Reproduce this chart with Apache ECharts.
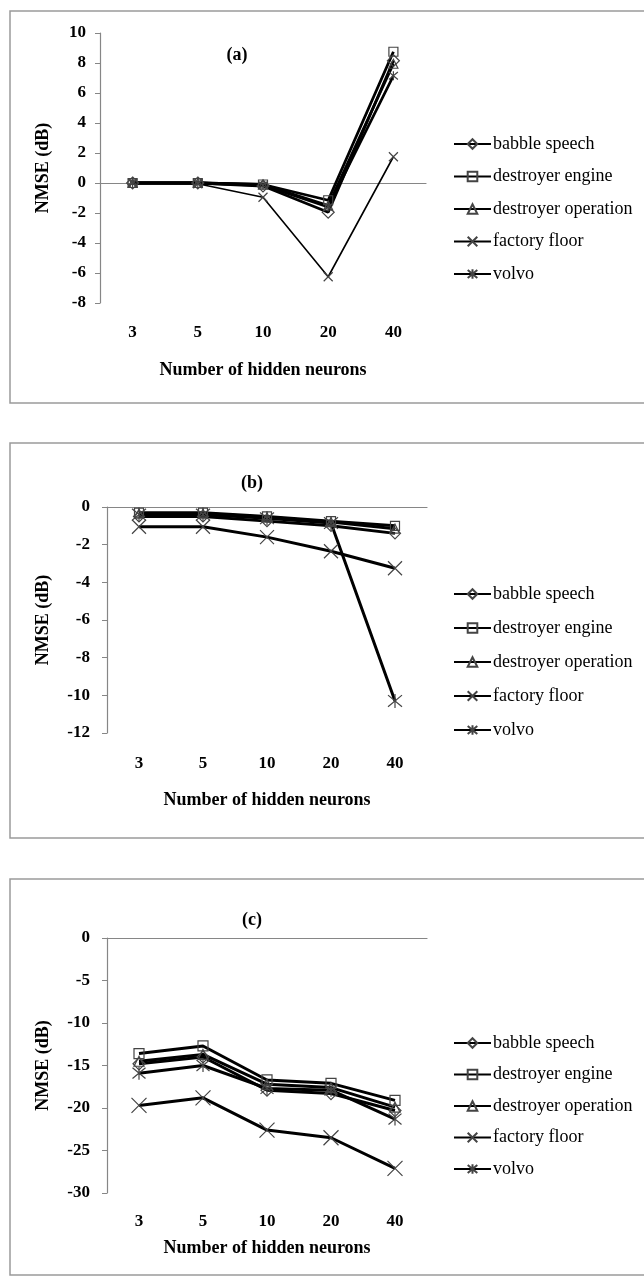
<!DOCTYPE html>
<html>
<head>
<meta charset="utf-8">
<script src="https://cdn.jsdelivr.net/npm/echarts@6/dist/echarts.min.js"></script>
<style>
html,body{margin:0;padding:0;background:#fff;}
#chart{width:644px;height:1281px;}
</style>
</head>
<body>
<div id="chart"></div>
<script>
// ---- data ----
const categories = ['3', '5', '10', '20', '40'];
const seriesNames = ['babble speech', 'destroyer engine', 'destroyer operation', 'factory floor', 'volvo'];

// Panel (a)
const aBabble      = [0, 0, -0.2, -1.95, 8.15];
const aDestEngine  = [0, 0, -0.1, -1.15, 8.75];
const aDestOper    = [0, 0, -0.1, -1.5, 7.95];
const aFactory     = [0, -0.05, -0.95, -6.25, 1.75];
const aVolvo       = [0, 0, -0.15, -1.6, 7.15];

// Panel (b)
const bBabble      = [-0.5, -0.5, -0.75, -1.0, -1.4];
const bDestEngine  = [-0.3, -0.3, -0.5, -0.75, -1.0];
const bDestOper    = [-0.35, -0.35, -0.55, -0.8, -1.15];
const bFactory     = [-1.05, -1.05, -1.6, -2.35, -3.25];
const bVolvo       = [-0.4, -0.4, -0.6, -0.85, -10.3];

// Panel (c)
const cBabble      = [-14.8, -14.0, -17.9, -18.3, -20.3];
const cDestEngine  = [-13.6, -12.7, -16.7, -17.1, -19.1];
const cDestOper    = [-14.5, -13.7, -17.2, -17.6, -19.9];
const cFactory     = [-19.7, -18.8, -22.6, -23.5, -27.1];
const cVolvo       = [-15.9, -15.0, -17.7, -17.9, -21.3];

const panelTitles = ['(a)', '(b)', '(c)'];
const xTitle = 'Number of hidden neurons';
const yTitle = 'NMSE (dB)';

// ---- styling ----
const FONT = '"Liberation Serif", "Times New Roman", serif';
const AXIS_GRAY = '#868686';
const symX = 'path://M0,0L10,10M10,0L0,10';
const symStar = 'path://M0,0L10,10M10,0L0,10M5,-1L5,11';
const symbols = ['diamond', 'rect', 'triangle', symX, symStar];

const panels = [
  { data: [aBabble, aDestEngine, aDestOper, aFactory, aVolvo], min: -8, max: 10, interval: 2,
    grid: { left: 100, top: 33, width: 326, height: 270 }, lw: [2.8, 2.8, 2.8, 1.6, 2.8],
    sizes: [12, 9, 9, 9, 9], labelMargin: 21, nameGap: 58, yNameGap: 48, yLabelMargin: 14,
    title: [237, 55], legendTop: 135, legendGap: 14.5 },
  { data: [bBabble, bDestEngine, bDestOper, bFactory, bVolvo], min: -12, max: 0, interval: 2,
    grid: { left: 107, top: 507, width: 320, height: 226 }, lw: [3, 3, 3, 3, 3],
    sizes: [11, 9, 9, 14, 14], labelMargin: 22, nameGap: 58, yNameGap: 55, yLabelMargin: 17,
    title: [252, 483], legendTop: 585, legendGap: 16 },
  { data: [cBabble, cDestEngine, cDestOper, cFactory, cVolvo], min: -30, max: 0, interval: 5,
    grid: { left: 107, top: 938, width: 320, height: 255 }, lw: [3, 3, 3, 3, 3],
    sizes: [12, 10, 10, 15, 13], labelMargin: 20, nameGap: 46, yNameGap: 55, yLabelMargin: 17,
    title: [252, 920], legendTop: 1034, legendGap: 13.5 }
];

const grids = [], xAxes = [], yAxes = [], series = [], legends = [], graphics = [];
const boxes = [[10, 11, 392], [10, 443, 395], [10, 879, 396]];
boxes.forEach(b => {
  graphics.push({ type: 'rect', z: -10, shape: { x: b[0], y: b[1], width: 660, height: b[2] },
    style: { fill: 'none', stroke: '#9a9a9a', lineWidth: 1.5 } });
});

panels.forEach((p, i) => {
  grids.push(p.grid);
  // label axis at bottom
  xAxes.push({ gridIndex: i, type: 'category', data: categories, position: 'bottom',
    axisLine: { show: false, onZero: false }, axisTick: { show: false },
    axisLabel: { fontFamily: FONT, fontWeight: 'bold', fontSize: 17, color: '#000', margin: p.labelMargin },
    name: xTitle, nameLocation: 'middle', nameGap: p.nameGap,
    nameTextStyle: { fontFamily: FONT, fontWeight: 'bold', fontSize: 18, color: '#000' } });
  // zero line axis
  xAxes.push({ gridIndex: i, type: 'category', data: categories,
    axisLine: { show: true, onZero: true, lineStyle: { color: AXIS_GRAY, width: 1.2 } },
    axisTick: { show: false }, axisLabel: { show: false } });
  yAxes.push({ gridIndex: i, type: 'value', min: p.min, max: p.max, interval: p.interval,
    axisLine: { show: true, lineStyle: { color: AXIS_GRAY, width: 1.2 } },
    axisTick: { show: true, inside: false, length: 5, lineStyle: { color: AXIS_GRAY } },
    splitLine: { show: false },
    axisLabel: { fontFamily: FONT, fontWeight: 'bold', fontSize: 17, color: '#000', margin: p.yLabelMargin },
    name: yTitle, nameLocation: 'middle', nameRotate: 90, nameGap: p.yNameGap,
    nameTextStyle: { fontFamily: FONT, fontWeight: 'bold', fontSize: 18, color: '#000' } });

  p.data.forEach((vals, k) => {
    series.push({ type: 'line', name: seriesNames[k], xAxisIndex: i * 2, yAxisIndex: i,
      data: vals, symbol: symbols[k], symbolSize: p.sizes[k], showAllSymbol: true,
      lineStyle: { color: '#000', width: p.lw[k] },
      itemStyle: { color: 'rgba(255,255,255,0)', borderColor: '#444', borderWidth: 1.2 },
      emphasis: { disabled: true }, animation: false });
  });

  legends.push({ orient: 'vertical', left: 453, top: p.legendTop, itemGap: p.legendGap,
    padding: 0, itemWidth: 37, itemHeight: 12, data: seriesNames, selectedMode: false,
    textStyle: { fontFamily: FONT, fontSize: 18, color: '#000', padding: [0, 0, 0, -3] } });

  graphics.push({ type: 'text', x: p.title[0], y: p.title[1],
    style: { text: panelTitles[i], textAlign: 'center', textVerticalAlign: 'middle',
      font: 'bold 18px ' + FONT, fill: '#000' } });
});

const chart = echarts.init(document.getElementById('chart'), null, { renderer: 'canvas' });
chart.setOption({
  backgroundColor: '#fff',
  animation: false,
  grid: grids,
  xAxis: xAxes,
  yAxis: yAxes,
  legend: legends,
  series: series,
  graphic: graphics
});
</script>
</body>
</html>
